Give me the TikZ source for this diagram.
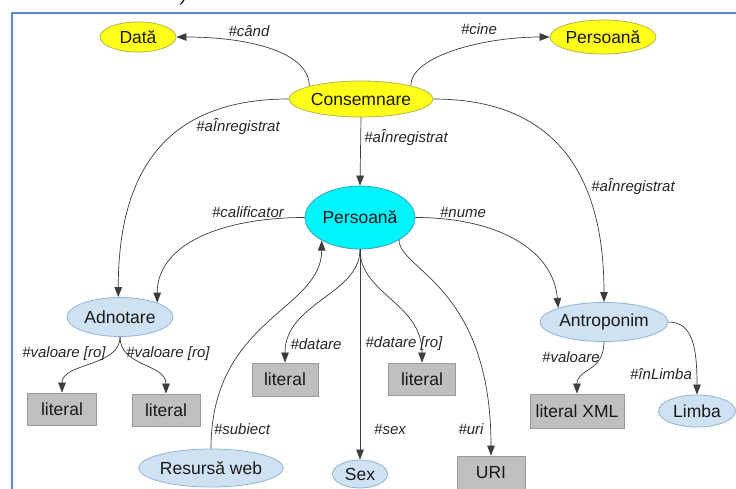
\documentclass[tikz,border=0pt]{standalone}
\usepackage{fontspec}
\setmainfont{Liberation Sans}
\usetikzlibrary{shapes.geometric,arrows.meta}
\definecolor{yelfill}{HTML}{FFFF1A}
\definecolor{yelborder}{HTML}{B5B54A}
\definecolor{cyfill}{HTML}{00F5FA}
\definecolor{cyborder}{HTML}{3A9FC8}
\definecolor{lbfill}{HTML}{CFE2F3}
\definecolor{lbborder}{HTML}{8FB4D6}
\definecolor{grfill}{HTML}{BFBFBF}
\definecolor{grborder}{HTML}{9A9A9A}
\definecolor{edgecol}{HTML}{3C3C3C}
\definecolor{framecol}{HTML}{5B8BD0}
\begin{document}
\begin{tikzpicture}[x=1pt,y=-1pt,
  nodefont/.style={font=\fontsize{17.5}{20}\selectfont, text=black!90},
  yel/.style={ellipse,draw=yelborder,fill=yelfill,line width=0.8pt,inner sep=0pt,nodefont},
  cy/.style={ellipse,draw=cyborder,fill=cyfill,line width=0.8pt,inner sep=0pt,nodefont},
  lb/.style={ellipse,draw=lbborder,fill=lbfill,line width=0.8pt,inner sep=0pt,nodefont},
  gbox/.style={rectangle,draw=grborder,fill=grfill,line width=0.8pt,inner sep=0pt,nodefont},
  lbl/.style={font=\fontsize{15}{18}\selectfont\itshape,text=black!85,inner sep=0pt},
  edge/.style={draw=edgecol,line width=0.7pt,-{Triangle[length=10pt,width=7.5pt]}},
]
\useasboundingbox (0,0) rectangle (736,488);
\fill[white] (0,0) rectangle (736,488);
\node[font=\fontsize{17.5}{20}\selectfont\itshape] (frag) at (184,-3) {)};
\draw[framecol,line width=2pt] (12,492) -- (12,12.5) -- (740,12.5);

% nodes
\node[yel,minimum width=76pt,minimum height=30pt] (dat) at (138,37) {Dată};
\node[yel,minimum width=105pt,minimum height=34pt] (pt) at (603,37) {Persoană};
\node[yel,minimum width=144pt,minimum height=36pt] (cons) at (361,99) {Consemnare};
\node[cy,minimum width=110pt,minimum height=63pt] (pc) at (360,217.5) {Persoană};
\node[lb,minimum width=106pt,minimum height=39pt] (adn) at (120,317) {Adnotare};
\node[lb,minimum width=128pt,minimum height=39pt] (antr) at (604,322) {Antroponim};
\node[gbox,minimum width=69pt,minimum height=32pt] (lit1) at (62,409) {literal};
\node[gbox,minimum width=68pt,minimum height=32pt] (lit2) at (166,410) {literal};
\node[gbox,minimum width=66pt,minimum height=33pt] (lit3) at (285,379.5) {literal};
\node[gbox,minimum width=67pt,minimum height=32pt] (lit4) at (422,379) {literal};
\node[gbox,minimum width=94pt,minimum height=34pt] (litx) at (577,411) {literal XML};
\node[lb,minimum width=77pt,minimum height=32pt] (limba) at (697,411) {Limba};
\node[lb,minimum width=133pt,minimum height=38pt] (res) at (211,468) {Resursă web};
\node[lb,minimum width=55pt,minimum height=28pt] (sex) at (360,474) {Sex};
\node[gbox,minimum width=68pt,minimum height=33pt] (uri) at (491,472.5) {URI};

% edges
\draw[edge] (cons.166) to[out=90,in=0,out distance=35pt,in distance=70pt] (dat.east);
\draw[edge] (cons.15) to[out=90,in=180,out distance=30pt,in distance=65pt] (pt.west);
\draw[edge] (cons.south) -- (pc.north);
\draw[edge] (cons.west) to[out=180,in=90,out distance=110pt,in distance=140pt] (adn.95);
\draw[edge] (cons.east) to[out=0,in=90,out distance=120pt,in distance=130pt] (antr.north);
\draw[edge] (pc.west) to[out=180,in=90,out distance=80pt,in distance=60pt] (adn.21);
\draw[edge] (pc.east) to[out=0,in=95,out distance=80pt,in distance=60pt] (antr.163);
\draw[edge] (res.north) to[out=90,in=-90,out distance=130pt,in distance=70pt] (pc.211);
\draw[edge] (pc.south) to[out=-90,in=90,out distance=45pt,in distance=60pt] (lit3.north);
\draw[edge] (pc.south) -- (sex.north);
\draw[edge] (pc.south) to[out=-90,in=90,out distance=45pt,in distance=60pt] (lit4.north);
\draw[edge] (pc.-30) to[out=-90,in=90,out distance=30pt,in distance=170pt] (uri.north);
\draw[edge] (adn.south) to[out=-90,in=90,out distance=30pt,in distance=30pt] (lit1.north);
\draw[edge] (adn.south) to[out=-90,in=90,out distance=30pt,in distance=30pt] (lit2.north);
\draw[edge] (antr.south) to[out=-90,in=90,out distance=30pt,in distance=25pt] (litx.north);
\draw[edge] (antr.east) to[out=0,in=90,out distance=25pt,in distance=45pt] (limba.north);

% labels
\node[lbl] (l1) at (249,31) {\#când};
\node[lbl] (l2) at (479,29) {\#cine};
\node[lbl] (l3) at (406,137) {\#aÎnregistrat};
\node[lbl] (l4) at (238,126) {\#aÎnregistrat};
\node[lbl] (l5) at (633,186) {\#aÎnregistrat};
\node[lbl] (l6) at (248,212) {\#calificator};
\node[lbl] (l7) at (463,212) {\#nume};
\node[lbl] (l8) at (242,429) {\#subiect};
\node[lbl] (l9) at (316,344) {\#datare};
\node[lbl] (l10) at (404,344) {\#datare [ro]};
\node[lbl] (l11) at (390,429) {\#sex};
\node[lbl] (l12) at (471,429) {\#uri};
\node[lbl] (l13) at (64,354) {\#valoare [ro]};
\node[lbl] (l14) at (168,354) {\#valoare [ro]};
\node[lbl] (l15) at (571,357) {\#valoare};
\node[lbl] (l16) at (661,374) {\#înLimba};
\end{tikzpicture}
\end{document}
